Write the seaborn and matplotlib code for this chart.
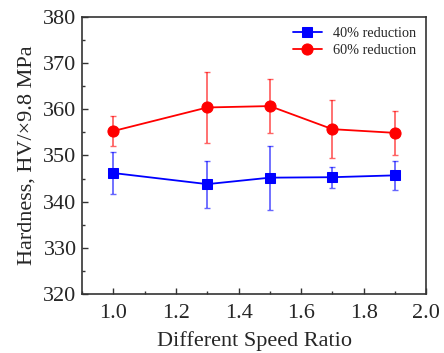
import numpy as np
import pandas as pd
import seaborn as sns
import matplotlib.pyplot as plt
from matplotlib.ticker import MultipleLocator

# data
speed_ratio = [1.0, 1.3, 1.5, 1.7, 1.9]
hv_40 = [346.2, 343.8, 345.2, 345.3, 345.7]
err_40 = [4.5, 5.1, 6.9, 2.3, 3.2]
hv_60 = [355.3, 360.4, 360.7, 355.7, 354.9]
err_60 = [3.3, 7.7, 5.8, 6.3, 4.7]
labels = ["40% reduction", "60% reduction"]

sns.set_theme(style="ticks")
plt.rcParams['font.family'] = ['Liberation Serif', 'DejaVu Serif']

df = pd.DataFrame({
    "ratio": speed_ratio * 2,
    "hv": hv_40 + hv_60,
    "err": err_40 + err_60,
    "group": [labels[0]] * 5 + [labels[1]] * 5,
})

fig, ax = plt.subplots(figsize=(4.44, 3.53), dpi=100)
fig.subplots_adjust(left=0.185, right=0.96, bottom=0.167, top=0.952)

colors = {labels[0]: "#0000ff", labels[1]: "#ff0000"}
markers = {labels[0]: "s", labels[1]: "o"}
sizes = {labels[0]: 6.5, labels[1]: 8}

for name, sub in df.groupby("group"):
    ax.errorbar(sub["ratio"], sub["hv"], yerr=sub["err"], fmt="none",
                ecolor=colors[name], alpha=0.6, elinewidth=1.3, capsize=2.5,
                capthick=1.0, zorder=2)
    sns.lineplot(data=sub, x="ratio", y="hv", ax=ax, color=colors[name],
                 marker=markers[name], markersize=sizes[name],
                 markeredgecolor=colors[name], linewidth=1.3, label=name,
                 zorder=3)

ax.set_xlim(0.9, 2.0)
ax.set_ylim(320, 380)
ax.xaxis.set_major_locator(MultipleLocator(0.2))
ax.xaxis.set_minor_locator(MultipleLocator(0.1))
ax.yaxis.set_major_locator(MultipleLocator(10))
ax.yaxis.set_minor_locator(MultipleLocator(5))
ax.tick_params(which="both", direction="in", color="#333333")
ax.tick_params(which="major", length=4, width=1, labelsize=16, pad=4)
ax.tick_params(axis="x", which="major", pad=7.5)
ax.tick_params(which="minor", length=2.5, width=1)
for s in ax.spines.values():
    s.set_color("#333333")
    s.set_linewidth(1.2)

ax.set_xlabel("Different Speed Ratio", fontsize=16, labelpad=5.5)
ax.set_ylabel("Hardness, HV/×9.8 MPa", fontsize=16, labelpad=5)

leg = ax.legend(loc="upper right", frameon=False, fontsize=10.3,
                handlelength=2.0, borderaxespad=0.3, labelspacing=0.3)

fig.savefig("out.png", dpi=100)
